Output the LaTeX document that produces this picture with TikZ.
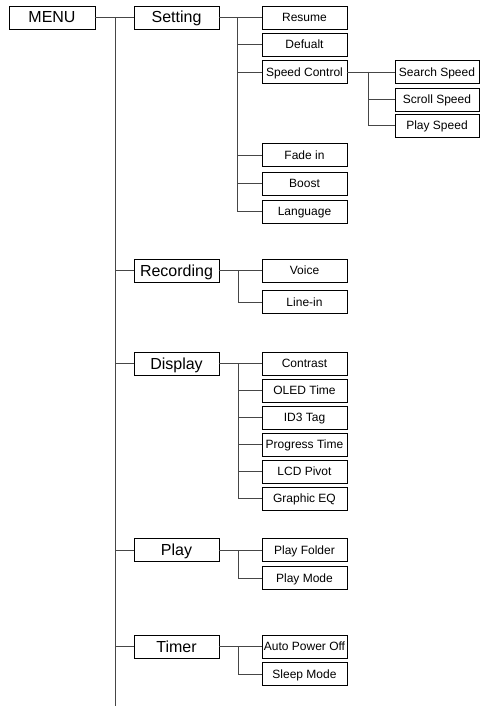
\documentclass[tikz,border=0pt]{standalone}
\usepackage{fontspec}
\setmainfont{Liberation Sans}
\begin{document}
\begin{tikzpicture}[x=1pt,y=-1pt,
  bigbox/.style={draw=black,line width=0.9pt,minimum width=85pt,minimum height=23pt,inner sep=0pt,text height=11.5pt,text depth=0.5pt,font=\fontsize{16}{18}\selectfont},
  smallbox/.style={draw=black,line width=0.9pt,minimum width=85pt,minimum height=23pt,inner sep=0pt,text height=8.6pt,text depth=0.4pt,font=\fontsize{12}{14}\selectfont},
  conn/.style={draw={rgb,255:red,70;green,70;blue,70},line width=0.9pt}]
\useasboundingbox (0,0) rectangle (480,706);
% level 0 / 1
\node[bigbox,minimum width=86pt] (menu) at (52,17.5) {MENU};
\node[bigbox] (setting) at (176.5,17.5) {Setting};
\node[bigbox] (recording) at (176.5,270.5) {Recording};
\node[bigbox] (display) at (176.5,363.5) {Display};
\node[bigbox] (play) at (176.5,550) {Play};
\node[bigbox] (timer) at (176.5,646.5) {Timer};
% setting children
\node[smallbox] (resume) at (304.5,17.5) {Resume};
\node[smallbox] (defualt) at (304.5,44.5) {Defualt};
\node[smallbox] (speed) at (304.5,72) {Speed Control};
\node[smallbox] (fade) at (304.5,155) {Fade in};
\node[smallbox] (boost) at (304.5,183.5) {Boost};
\node[smallbox] (language) at (304.5,211.5) {Language};
% speed children
\node[smallbox,minimum width=84pt] (search) at (437,72) {Search Speed};
\node[smallbox,minimum width=84pt] (scroll) at (437,99.5) {Scroll Speed};
\node[smallbox,minimum width=84pt] (playspeed) at (437,125.5) {Play Speed};
% recording children
\node[smallbox] (voice) at (304.5,270.5) {Voice};
\node[smallbox] (linein) at (304.5,302) {Line-in};
% display children
\node[smallbox] (contrast) at (304.5,363.5) {Contrast};
\node[smallbox] (oled) at (304.5,390.5) {OLED Time};
\node[smallbox] (id3) at (304.5,417.5) {ID3 Tag};
\node[smallbox] (progress) at (304.5,444.5) {Progress Time};
\node[smallbox] (lcd) at (304.5,471.5) {LCD Pivot};
\node[smallbox] (geq) at (304.5,498.5) {Graphic EQ};
% play children
\node[smallbox] (pfolder) at (304.5,550) {Play Folder};
\node[smallbox] (pmode) at (304.5,578) {Play Mode};
% timer children
\node[smallbox] (apo) at (304.5,646.5) {Auto Power Off};
\node[smallbox] (sleep) at (304.5,674) {Sleep Mode};
% junction coordinates
\coordinate (trunk) at (115,17.5);
\coordinate (trunkend) at (115,706);
\coordinate (jset) at (237,17.5);
\coordinate (jspeed) at (368,72);
\coordinate (jrec) at (238,270.5);
\coordinate (jdisp) at (238,363.5);
\coordinate (jplay) at (238,550);
\coordinate (jtimer) at (238,646.5);
% main trunk
\draw[conn] (menu.east) -- (setting.west);
\draw[conn] (trunk) -- (trunkend);
\foreach \n in {recording,display,play,timer}
  \draw[conn] (trunk |- \n.west) -- (\n.west);
% setting
\draw[conn] (setting.east) -- (resume.west);
\foreach \n in {defualt,speed,fade,boost,language}
  \draw[conn] (jset) |- (\n.west);
% speed
\draw[conn] (speed.east) -- (search.west);
\foreach \n in {scroll,playspeed}
  \draw[conn] (jspeed) |- (\n.west);
% recording
\draw[conn] (recording.east) -- (voice.west);
\draw[conn] (jrec) |- (linein.west);
% display
\draw[conn] (display.east) -- (contrast.west);
\foreach \n in {oled,id3,progress,lcd,geq}
  \draw[conn] (jdisp) |- (\n.west);
% play
\draw[conn] (play.east) -- (pfolder.west);
\draw[conn] (jplay) |- (pmode.west);
% timer
\draw[conn] (timer.east) -- (apo.west);
\draw[conn] (jtimer) |- (sleep.west);
\end{tikzpicture}
\end{document}
